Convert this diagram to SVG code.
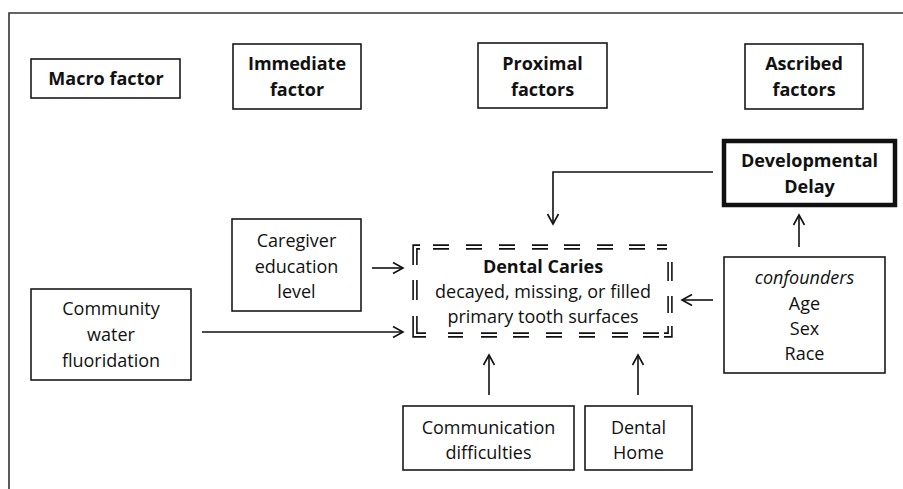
<svg xmlns="http://www.w3.org/2000/svg" width="903" height="489" viewBox="0 0 903 489">
<style>
  .box{fill:#fff;stroke:#1a1a1a;stroke-width:1.6}
  .thick{fill:#fff;stroke:#111;stroke-width:4.5}
  .t{font-family:"Open Sans","Noto Sans",sans-serif;font-size:18px;fill:#111;text-anchor:middle}
  .b{font-weight:bold}
  .i{font-style:italic}
  .c{fill:none;stroke:#111;stroke-width:1.6}
  .frame{fill:none;stroke:#333;stroke-width:1.6}
</style>
<defs>
  <marker id="ah" markerUnits="userSpaceOnUse" markerWidth="14" markerHeight="14" viewBox="0 0 14 14" refX="11" refY="7" orient="auto">
    <path d="M1,1.5 L11,7 L1,12.5" fill="none" stroke="#111" stroke-width="1.6"/>
  </marker>
  <path id="dash" d="M415,265 V247 H420 M433,247 H449 M466,247 H482 M499,247 H515 M532,247 H548 M564,247 H580 M597,247 H613 M629,247 H645 M657,247 H667 M670,262 V281 M670,296 V313 M670,326 V335 H664 M659,335 H643 M628,335 H612 M595,335 H579 M562,335 H546 M529,335 H513 M497,335 H481 M463,335 H448 M426,335 H415 V316 M415,300 V280"/>
</defs>
<path class="frame" d="M9,489 V13 H903"/>

<g id="macro-factor">
  <rect class="box" x="31" y="59" width="149" height="39"/>
  <text class="t b" x="106" y="85">Macro factor</text>
</g>
<g id="immediate-factor">
  <rect class="box" x="233" y="44" width="128" height="65"/>
  <text class="t b" x="297" y="70">Immediate</text>
  <text class="t b" x="297" y="96">factor</text>
</g>
<g id="proximal-factors">
  <rect class="box" x="478" y="43" width="129" height="65"/>
  <text class="t b" x="542.5" y="70">Proximal</text>
  <text class="t b" x="542.5" y="96">factors</text>
</g>
<g id="ascribed-factors">
  <rect class="box" x="745" y="44" width="118" height="65"/>
  <text class="t b" x="804" y="70">Ascribed</text>
  <text class="t b" x="804" y="96">factors</text>
</g>
<g id="developmental-delay">
  <rect class="thick" x="724" y="141" width="171" height="64"/>
  <text class="t b" x="809.5" y="167">Developmental</text>
  <text class="t b" x="809.5" y="193">Delay</text>
</g>
<g id="caregiver-education">
  <rect class="box" x="232" y="219" width="129" height="92"/>
  <text class="t" x="296.5" y="247">Caregiver</text>
  <text class="t" x="296.5" y="273">education</text>
  <text class="t" x="296.5" y="298">level</text>
</g>
<g id="community-water">
  <rect class="box" x="31" y="289" width="160" height="91"/>
  <text class="t" x="111" y="315">Community</text>
  <text class="t" x="111" y="341">water</text>
  <text class="t" x="111" y="367">fluoridation</text>
</g>
<g id="dental-caries">
  <use href="#dash" fill="none" stroke="#111" stroke-width="5.4"/>
  <use href="#dash" fill="none" stroke="#fff" stroke-width="2.2"/>
  <text class="t b" x="543" y="273">Dental Caries</text>
  <text class="t" x="543" y="298">decayed, missing, or filled</text>
  <text class="t" x="543" y="323">primary tooth surfaces</text>
</g>
<g id="confounders">
  <rect class="box" x="724" y="257" width="161" height="116"/>
  <text class="t i" x="804.5" y="284">confounders</text>
  <text class="t" x="804.5" y="309.5">Age</text>
  <text class="t" x="804.5" y="335">Sex</text>
  <text class="t" x="804.5" y="360">Race</text>
</g>
<g id="communication-difficulties">
  <rect class="box" x="403" y="406" width="171" height="64"/>
  <text class="t" x="488.5" y="434">Communication</text>
  <text class="t" x="488.5" y="459">difficulties</text>
</g>
<g id="dental-home">
  <rect class="box" x="585" y="406" width="107" height="64"/>
  <text class="t" x="638.5" y="434">Dental</text>
  <text class="t" x="638.5" y="459">Home</text>
</g>

<g id="connectors">
  <path class="c" d="M713,172 H553 V224" marker-end="url(#ah)"/>
  <path class="c" d="M799,247 V215" marker-end="url(#ah)"/>
  <path class="c" d="M713,300 H682" marker-end="url(#ah)"/>
  <path class="c" d="M372,268 H403" marker-end="url(#ah)"/>
  <path class="c" d="M202,332 H403" marker-end="url(#ah)"/>
  <path class="c" d="M489,395 V355" marker-end="url(#ah)"/>
  <path class="c" d="M638,395 V355" marker-end="url(#ah)"/>
</g>
</svg>
